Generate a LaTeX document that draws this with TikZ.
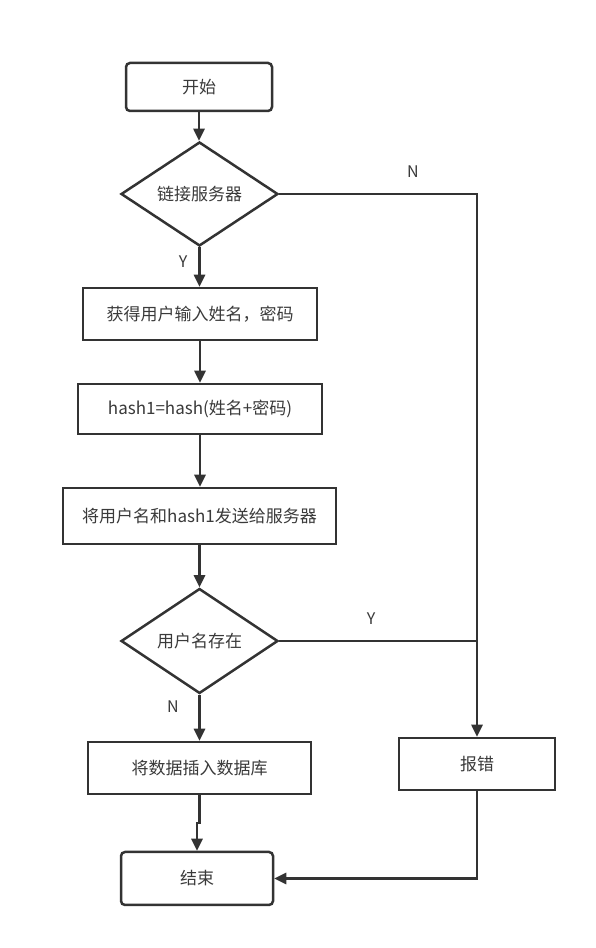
\documentclass[tikz,border=0pt]{standalone}
\usepackage{fontspec}
\setmainfont{Noto Sans CJK SC}
\usetikzlibrary{shapes.geometric,arrows.meta,calc}
\definecolor{ln}{HTML}{333333}
\definecolor{tx}{HTML}{3A3A3A}
\begin{document}
\begin{tikzpicture}[x=1pt,y=1pt,
  every node/.style={font=\fontsize{17}{20}\selectfont, text=tx},
  box/.style={draw=ln, line width=2.5pt, rectangle, inner sep=0pt, fill=white},
  rbox/.style={box, rounded corners=4pt},
  dec/.style={draw=ln, line width=2.5pt, diamond, shape aspect=1.5, inner sep=0pt, fill=white},
  conn/.style={draw=ln, line width=2.5pt, -{Triangle[length=12pt,width=11pt]}},
  plain/.style={draw=ln, line width=2.5pt},
  lbl/.style={font=\fontsize{16}{18}\selectfont}]
\useasboundingbox (0,0) rectangle (596,948);
\fill[white] (0,0) rectangle (596,948);

\node[rbox, minimum width=146pt, minimum height=48pt] (start) at (199,861) {开始};
\node[dec, minimum width=157pt, minimum height=104pt] (d1) at (199.5,754) {链接服务器};
\node[box, minimum width=234pt, minimum height=52pt] (b1) at (200,634) {获得用户输入姓名，密码};
\node[box, minimum width=244pt, minimum height=50pt] (b2) at (200,539) {hash1=hash(姓名+密码)};
\node[box, minimum width=273pt, minimum height=56pt] (b3) at (199.5,432) {将用户名和hash1发送给服务器};
\node[dec, minimum width=157pt, minimum height=105pt] (d2) at (199.5,307) {用户名存在};
\node[box, minimum width=223pt, minimum height=52pt] (b4) at (199.5,180) {将数据插入数据库};
\node[box, minimum width=156pt, minimum height=52pt] (err) at (477,184) {报错};
\node[rbox, minimum width=152pt, minimum height=53pt] (end) at (197,69.5) {结束};

\draw[conn] (start.south) -- (start.south |- d1.north);
\draw[conn] (d1.south) -- (d1.south |- b1.north);
\draw[conn] (b1.south) -- (b1.south |- b2.north);
\draw[conn] (b2.south) -- (b2.south |- b3.north);
\draw[conn] (b3.south) -- (b3.south |- d2.north);
\draw[conn] (d2.south) -- (d2.south |- b4.north);
\draw[conn] (b4.south) -- ++(0,-28) -| (end.north);
\draw[conn] (d1.east) -| (err.north);
\draw[plain] (d2.east) -- (err.north |- d2.east);
\draw[conn] (err.south) |- (end.east);

\node[lbl] (ly1) at (183,686) {Y};
\node[lbl] (ln1) at (413,776) {N};
\node[lbl] (ly2) at (371,329) {Y};
\node[lbl] (ln2) at (173,241) {N};
\end{tikzpicture}
\end{document}
